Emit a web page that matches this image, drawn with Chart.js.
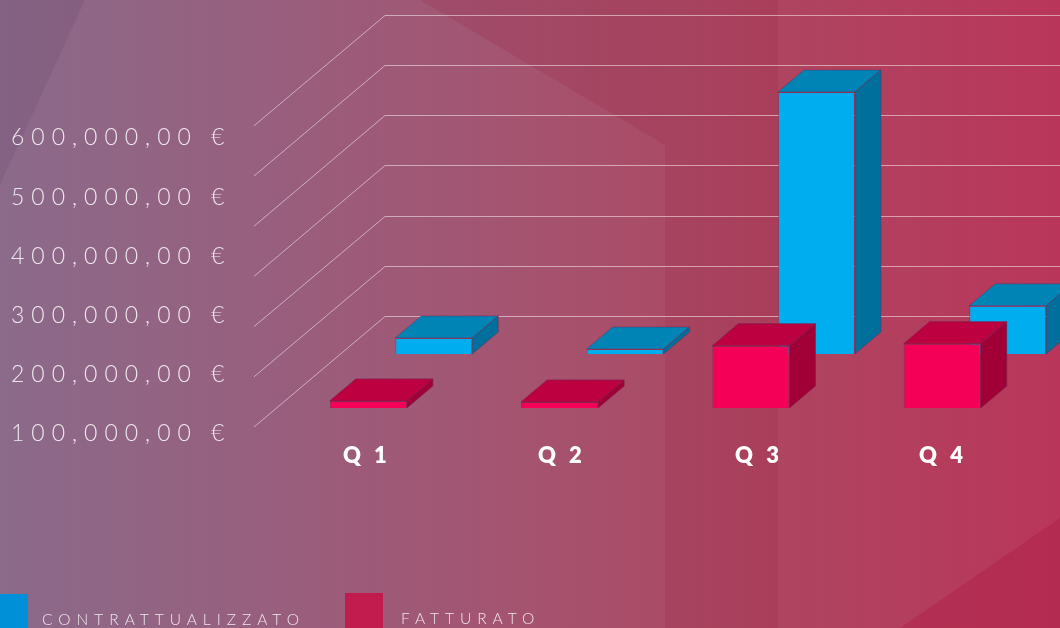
<!DOCTYPE html>
<html>
<head>
<meta charset="utf-8">
<style>html,body{margin:0;padding:0;width:1060px;height:628px;overflow:hidden;background:#a5506c}canvas{display:block}</style>
<script src="https://cdn.jsdelivr.net/npm/chart.js@4"></script>
</head>
<body>
<canvas id="c" width="1080" height="628"></canvas>
<script>
const categories = ['Q 1', 'Q 2', 'Q 3', 'Q 4'];
const categoryTickStops = [1.01, 2, 3, 3.934];
const contrattualizzato = [32000, 10000, 522000, 96000];
const fatturato = [14000, 12000, 124000, 128000];
const yTickValues = [100000, 200000, 300000, 400000, 500000, 600000];
const yTickLabels = ['100,000,00 €', '200,000,00 €', '300,000,00 €', '400,000,00 €', '500,000,00 €', '600,000,00 €'];
const gridValues = [0, 100000, 200000, 300000, 400000, 500000, 600000];
const FONT = 'Lato, "Open Sans", sans-serif';
const DEPTH = {dx: 26, dy: 22};
const faces = {
  'CONTRATTUALIZZATO': {top: '#0083b5', side: '#006f9b', swatch: '#0090d8', box: [0, 594, 28, 34], text: [42, 620]},
  'FATTURATO': {top: '#bd003f', side: '#a00035', swatch: '#c21b4e', box: [345, 593, 38, 35], text: [401, 619]}
};
function poly(ctx, pts, fill) {
  ctx.beginPath();
  pts.forEach((p, i) => i ? ctx.lineTo(p[0], p[1]) : ctx.moveTo(p[0], p[1]));
  ctx.closePath();
  if (fill) ctx.fillStyle = fill;
  ctx.fill();
}
function noMargins(s) { s.paddingTop = s.paddingBottom = s.paddingLeft = s.paddingRight = 0; }
function spaced(scale, amount) {
  if (scale._spaced) return;
  scale._spaced = true;
  const draw = scale.drawLabels;
  scale.drawLabels = function (area) {
    const ctx = this.ctx, prev = ctx.letterSpacing;
    ctx.letterSpacing = amount;
    draw.call(this, area);
    ctx.letterSpacing = prev;
  };
}
const backdrop = {
  id: 'backdrop',
  afterLayout(chart) {
    spaced(chart.scales.yLab, '7px');
    spaced(chart.scales.xLab, '4px');
  },
  beforeDraw(chart) {
    const ctx = chart.ctx, W = 1060, H = chart.height;
    ctx.save();
    const g = ctx.createLinearGradient(0, 0, W, 0);
    g.addColorStop(0, '#8b6a8a');
    g.addColorStop(0.25, '#985f7e');
    g.addColorStop(0.5, '#a5536f');
    g.addColorStop(0.73, '#ae4560');
    g.addColorStop(1, '#b9365a');
    ctx.fillStyle = g;
    ctx.fillRect(0, 0, chart.width, H);
    poly(ctx, [[0, 0], [85, 0], [0, 185]], 'rgba(70,40,80,0.12)');
    poly(ctx, [[420, 0], [665, 0], [665, 145]], 'rgba(150,30,60,0.18)');
    poly(ctx, [[665, 0], [778, 0], [778, 628], [665, 628]], 'rgba(150,30,60,0.16)');
    poly(ctx, [[900, 628], [1060, 518], [1060, 628]], 'rgba(175,30,70,0.45)');
    ctx.restore();
  },
  beforeDatasetsDraw(chart) {
    const ctx = chart.ctx, y = chart.scales.y;
    ctx.save();
    ctx.strokeStyle = 'rgba(255,255,255,0.5)';
    ctx.lineWidth = 1;
    gridValues.forEach(v => {
      const p = y.getPixelForValue(v);
      ctx.beginPath();
      ctx.moveTo(254, p + 19);
      ctx.lineTo(385, Math.round(p - 92) + 0.5);
      ctx.lineTo(chart.width, Math.round(p - 92) + 0.5);
      ctx.stroke();
    });
    ctx.restore();
  },
  afterDatasetDraw(chart, args) {
    const ctx = chart.ctx;
    const ds = chart.data.datasets[args.index];
    const f = faces[ds.label];
    ctx.save();
    ctx.strokeStyle = ds.borderColor;
    ctx.lineWidth = 1;
    args.meta.data.forEach(el => {
      const b = el.getProps(['x', 'y', 'base', 'width'], true);
      const l = b.x - b.width / 2, r = b.x + b.width / 2;
      const d = DEPTH;
      poly(ctx, [[l, b.y], [l + d.dx, b.y - d.dy], [r + d.dx, b.y - d.dy], [r, b.y]], f.top);
      ctx.stroke();
      poly(ctx, [[r, b.y], [r + d.dx, b.y - d.dy], [r + d.dx, b.base - d.dy], [r, b.base]], f.side);
      ctx.stroke();
    });
    ctx.restore();
  },
  afterDraw(chart) {
    const ctx = chart.ctx;
    ctx.save();
    ctx.letterSpacing = '6px';
    ctx.font = '300 15.5px ' + FONT;
    ctx.textBaseline = 'middle';
    ctx.textAlign = 'left';
    chart.data.datasets.forEach(ds => {
      const f = faces[ds.label];
      ctx.fillStyle = f.swatch;
      ctx.fillRect(f.box[0], f.box[1], f.box[2], f.box[3]);
      ctx.fillStyle = 'rgba(255,255,255,0.85)';
      ctx.fillText(ds.label, f.text[0], f.text[1]);
    });
    ctx.restore();
  }
};
new Chart(document.getElementById('c'), {
  type: 'bar',
  data: {
    labels: categories,
    datasets: [
      {label: 'FATTURATO', data: fatturato, yAxisID: 'y', xAxisID: 'x', backgroundColor: '#f50057', borderColor: 'rgba(125,30,75,0.7)', borderWidth: 1},
      {label: 'CONTRATTUALIZZATO', data: contrattualizzato, yAxisID: 'yBack', xAxisID: 'x', backgroundColor: '#00aeef', borderColor: 'rgba(125,30,75,0.4)', borderWidth: 1}
    ]
  },
  options: {
    responsive: false,
    animation: false,
    devicePixelRatio: 1,
    categoryPercentage: 0.685,
    barPercentage: 1.176,
    layout: {padding: {left: 0, right: 9.4, top: 0, bottom: 0}},
    plugins: {legend: {display: false}, tooltip: {enabled: false}},
    scales: {
      x: {type: 'category', display: false, offset: true},
      y: {type: 'linear', display: false, min: -63745, max: 812749},
      yBack: {type: 'linear', display: false, min: -171315, max: 705179},
      yLab: {
        type: 'linear', position: 'left', min: 89863, max: 833107,
        grid: {display: false, drawTicks: false}, border: {display: false},
        afterBuildTicks(s) { s.ticks = yTickValues.map(v => ({value: v})); },
        afterFit(s) { s.width = 305.4; noMargins(s); },
        ticks: {
          autoSkip: false, padding: 74, color: 'rgba(255,255,255,0.85)',
          font: {family: FONT, size: 23, weight: '300'},
          callback: v => yTickLabels[yTickValues.indexOf(v)]
        }
      },
      xLab: {
        type: 'linear', position: 'bottom', offset: false, min: 0.6975, max: 4.5817,
        grid: {display: false, drawTicks: false, offset: false}, border: {display: false},
        afterBuildTicks(s) { s.ticks = categoryTickStops.map(v => ({value: v})); },
        afterFit(s) { s.height = 188; noMargins(s); },
        ticks: {
          autoSkip: false, maxRotation: 0, minRotation: 0, padding: 3, color: '#ffffff',
          font: {family: FONT, size: 22, weight: '800'},
          callback: v => categories[categoryTickStops.indexOf(v)]
        }
      }
    }
  },
  plugins: [backdrop]
});
</script>
</body>
</html>
